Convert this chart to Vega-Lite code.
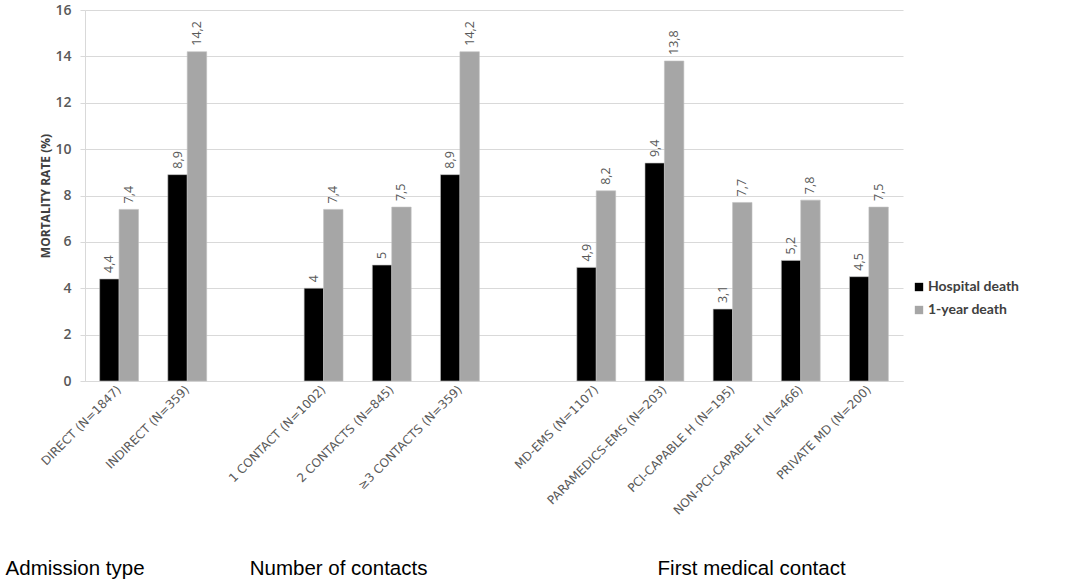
{
  "$schema": "https://vega.github.io/schema/vega-lite/v6.json",
  "width": 818,
  "height": 371,
  "autosize": {"type": "none"},
  "padding": {"left": 85, "top": 10, "right": 181, "bottom": 203},
  "config": {
    "view": {"stroke": null},
    "locale": {"number": {"decimal": ",", "thousands": ".", "grouping": [3], "currency": ["", " €"]}}
  },
  "layer": [
    {
      "data": {
        "values": [
          {"category": "DIRECT (N=1847)", "series": "Hospital death", "rate": 4.4},
          {"category": "DIRECT (N=1847)", "series": "1-year death", "rate": 7.4},
          {"category": "INDIRECT (N=359)", "series": "Hospital death", "rate": 8.9},
          {"category": "INDIRECT (N=359)", "series": "1-year death", "rate": 14.2},
          {"category": "1 CONTACT (N=1002)", "series": "Hospital death", "rate": 4},
          {"category": "1 CONTACT (N=1002)", "series": "1-year death", "rate": 7.4},
          {"category": "2 CONTACTS (N=845)", "series": "Hospital death", "rate": 5},
          {"category": "2 CONTACTS (N=845)", "series": "1-year death", "rate": 7.5},
          {"category": "≥3 CONTACTS (N=359)", "series": "Hospital death", "rate": 8.9},
          {"category": "≥3 CONTACTS (N=359)", "series": "1-year death", "rate": 14.2},
          {"category": "MD-EMS (N=1107)", "series": "Hospital death", "rate": 4.9},
          {"category": "MD-EMS (N=1107)", "series": "1-year death", "rate": 8.2},
          {"category": "PARAMEDICS-EMS (N=203)", "series": "Hospital death", "rate": 9.4},
          {"category": "PARAMEDICS-EMS (N=203)", "series": "1-year death", "rate": 13.8},
          {"category": "PCI-CAPABLE H (N=195)", "series": "Hospital death", "rate": 3.1},
          {"category": "PCI-CAPABLE H (N=195)", "series": "1-year death", "rate": 7.7},
          {"category": "NON-PCI-CAPABLE H (N=466)", "series": "Hospital death", "rate": 5.2},
          {"category": "NON-PCI-CAPABLE H (N=466)", "series": "1-year death", "rate": 7.8},
          {"category": "PRIVATE MD (N=200)", "series": "Hospital death", "rate": 4.5},
          {"category": "PRIVATE MD (N=200)", "series": "1-year death", "rate": 7.5}
        ]
      },
      "encoding": {
        "x": {
          "field": "category",
          "type": "nominal",
          "scale": {
            "domain": ["DIRECT (N=1847)", "INDIRECT (N=359)", " ", "1 CONTACT (N=1002)", "2 CONTACTS (N=845)", "≥3 CONTACTS (N=359)", "  ", "MD-EMS (N=1107)", "PARAMEDICS-EMS (N=203)", "PCI-CAPABLE H (N=195)", "NON-PCI-CAPABLE H (N=466)", "PRIVATE MD (N=200)"],
            "paddingInner": 0.43,
            "paddingOuter": 0.215
          },
          "axis": {
            "title": null,
            "labelAngle": -45,
            "labelAlign": "right",
            "labelBaseline": "middle",
            "labelFont": "DejaVu Sans",
            "labelFontSize": 12,
            "labelColor": "#595959",
            "labelPadding": 6,
            "ticks": false,
            "domainColor": "#d9d9d9",
            "labelLimit": 300
          }
        },
        "xOffset": {"field": "series", "type": "nominal", "scale": {"domain": ["Hospital death", "1-year death"], "paddingInner": 0}},
        "y": {
          "field": "rate",
          "type": "quantitative",
          "scale": {"domain": [0, 16]},
          "axis": {
            "title": "MORTALITY RATE (%)",
            "titleFont": "Open Sans",
            "titleFontSize": 12,
            "titleFontWeight": "bold",
            "titleColor": "#404040",
            "titleX": -33,
            "values": [0, 2, 4, 6, 8, 10, 12, 14, 16],
            "labelOverlap": false,
            "labelFont": "Open Sans",
            "labelFontSize": 14,
            "labelFontWeight": 600,
            "labelColor": "#595959",
            "labelPadding": 9,
            "tickSize": 5,
            "tickColor": "#d9d9d9",
            "domainColor": "#d9d9d9",
            "gridColor": "#d9d9d9"
          }
        }
      },
      "layer": [
        {
          "mark": {"type": "bar", "stroke": "#bfbfbf", "strokeWidth": 0.6},
          "encoding": {
            "color": {
              "field": "series",
              "type": "nominal",
              "scale": {"domain": ["Hospital death", "1-year death"], "range": ["#000000", "#a6a6a6"]},
              "legend": {
                "title": null,
                "orient": "none",
                "legendX": 827,
                "legendY": 270,
                "symbolType": "square",
                "symbolSize": 70,
                "symbolStrokeWidth": 0,
                "labelFont": "Lato",
                "labelFontSize": 14,
                "labelFontWeight": "bold",
                "labelColor": "#404040",
                "labelOffset": 2,
                "rowPadding": 9
              }
            }
          }
        },
        {
          "mark": {"type": "text", "angle": 270, "align": "left", "baseline": "middle", "dx": 6, "font": "Open Sans", "fontSize": 12.5, "color": "#595959"},
          "encoding": {
            "text": {"field": "rate", "type": "quantitative", "format": ".3~g"}
          }
        }
      ]
    },
    {
      "data": {
        "values": [
          {"group": "Admission type", "anchor": "DIRECT (N=1847)"},
          {"group": "Number of contacts", "anchor": "1 CONTACT (N=1002)"},
          {"group": "First medical contact", "anchor": "PCI-CAPABLE H (N=195)"}
        ]
      },
      "encoding": {
        "x": {"field": "anchor", "type": "nominal"},
        "y": {"datum": -8.1},
        "text": {"field": "group"}
      },
      "layer": [
        {
          "transform": [{"filter": "datum.group == 'Admission type'"}],
          "mark": {"type": "text", "dx": -44, "font": "Liberation Sans", "fontSize": 20.5, "color": "#000000", "baseline": "middle"}
        },
        {
          "transform": [{"filter": "datum.group == 'Number of contacts'"}],
          "mark": {"type": "text", "dx": 15, "font": "Liberation Sans", "fontSize": 20.5, "color": "#000000", "baseline": "middle"}
        },
        {
          "transform": [{"filter": "datum.group == 'First medical contact'"}],
          "mark": {"type": "text", "dx": 19, "font": "Liberation Sans", "fontSize": 20.5, "color": "#000000", "baseline": "middle"}
        }
      ]
    }
  ]
}
